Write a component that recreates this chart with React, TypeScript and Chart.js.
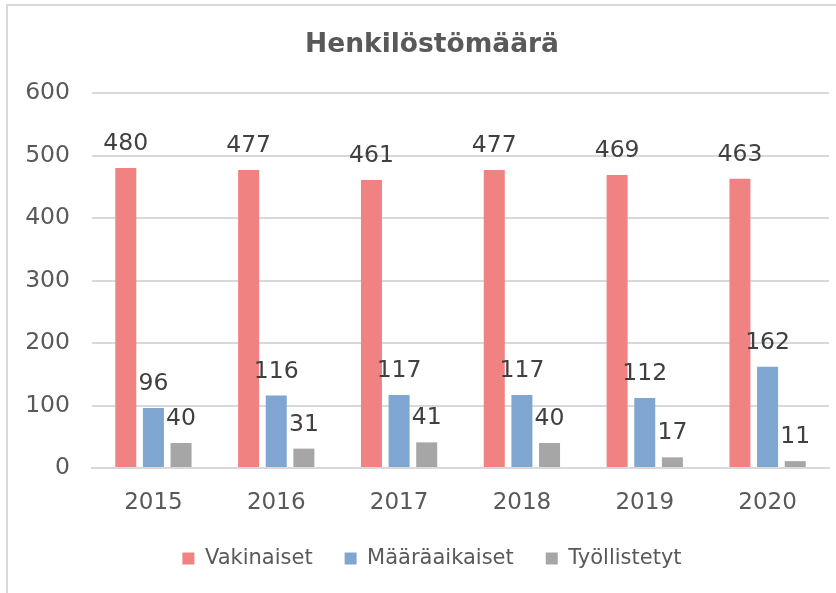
import React, { useEffect, useRef } from "react";
import { Chart, registerables } from "chart.js";

Chart.register(...registerables);

const chartTitle = "Henkilöstömäärä";
const categories = ["2015", "2016", "2017", "2018", "2019", "2020"];
const seriesNames = ["Vakinaiset", "Määräaikaiset", "Työllistetyt"];
const vakinaiset = [480, 477, 461, 477, 469, 463];
const maaraaikaiset = [96, 116, 117, 117, 112, 162];
const tyollistetyt = [40, 31, 41, 40, 17, 11];
const seriesColors = ["#F08282", "#7FA6D0", "#A6A6A6"];
const yTicks = [0, 100, 200, 300, 400, 500, 600];

const FONT = "'DejaVu Sans', Verdana, sans-serif";
const CANVAS_W = 864;
const CANVAS_H = 593;

const valueLabels = {
  id: "valueLabels",
  afterDatasetsDraw(chart: any) {
    const ctx = chart.ctx;
    ctx.save();
    ctx.font = `23.5px ${FONT}`;
    ctx.fillStyle = "#404040";
    ctx.textAlign = "center";
    ctx.textBaseline = "alphabetic";
    chart.data.datasets.forEach((ds: any, i: number) => {
      const meta = chart.getDatasetMeta(i);
      meta.data.forEach((el: any, j: number) => {
        ctx.fillText(String(ds.data[j]), el.x, el.y - 18);
      });
    });
    ctx.restore();
  },
};

export default function App() {
  const ref = useRef<HTMLCanvasElement | null>(null);

  useEffect(() => {
    if (!ref.current) return;
    const values = [vakinaiset, maaraaikaiset, tyollistetyt];
    const chart = new Chart(ref.current, {
      type: "bar",
      data: {
        labels: categories,
        datasets: seriesNames.map((name, i) => ({
          label: name,
          data: values[i],
          backgroundColor: seriesColors[i],
          borderWidth: 0,
          categoryPercentage: 0.675,
          barPercentage: 0.76,
        })),
      },
      options: {
        responsive: false,
        animation: false,
        devicePixelRatio: 1,
        layout: { padding: { left: 0, right: 0, top: 0, bottom: 14 } },
        plugins: {
          title: {
            display: true,
            text: chartTitle,
            color: "#595959",
            font: { family: FONT, size: 26.5, weight: "bold" },
            padding: { top: 29, bottom: 32.2 },
          },
          legend: {
            position: "bottom",
            labels: {
              boxWidth: 12,
              boxHeight: 12,
              padding: 32,
              color: "#595959",
              font: { family: FONT, size: 21 },
            },
          },
          tooltip: { enabled: false },
        },
        scales: {
          x: {
            grid: { display: false },
            border: { display: true, color: "#D9D9D9", width: 2 },
            ticks: { color: "#595959", font: { family: FONT, size: 23 }, padding: 13 },
            afterFit(s: any) {
              s.height = 48;
            },
          },
          y: {
            min: yTicks[0],
            max: yTicks[yTicks.length - 1],
            ticks: {
              stepSize: yTicks[1] - yTicks[0],
              color: "#595959",
              font: { family: FONT, size: 23.5 },
              padding: 22,
            },
            grid: { color: "#D9D9D9", lineWidth: 2, drawTicks: false },
            border: { display: false },
            afterFit(s: any) {
              s.width = 92;
            },
          },
          yRight: {
            type: "linear",
            position: "right",
            display: true,
            grid: { display: false },
            border: { display: false },
            ticks: { display: false },
            afterFit(s: any) {
              s.width = CANVAS_W - 829;
            },
          },
        },
      },
      plugins: [valueLabels],
    });
    return () => chart.destroy();
  }, []);

  return (
    <div
      style={{
        position: "absolute",
        left: 0,
        top: 0,
        width: 836,
        height: 593,
        overflow: "hidden",
        background: "#fff",
      }}
    >
      <canvas
        ref={ref}
        width={CANVAS_W}
        height={CANVAS_H}
        style={{ position: "absolute", left: 0, top: 0 }}
      />
      <div
        style={{
          position: "absolute",
          left: 6,
          top: 4,
          right: 0,
          bottom: 0,
          borderTop: "2px solid #D9D9D9",
          borderLeft: "2px solid #D9D9D9",
          pointerEvents: "none",
        }}
      />
    </div>
  );
}
